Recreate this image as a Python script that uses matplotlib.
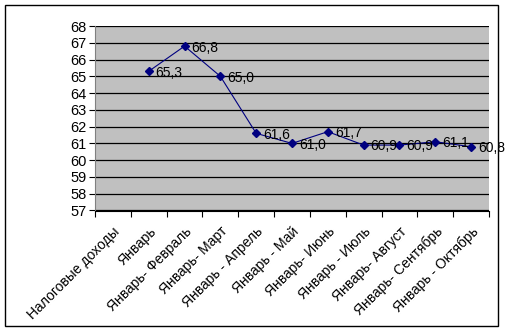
import matplotlib
matplotlib.use("Agg")
import matplotlib.pyplot as plt
from matplotlib.patches import Rectangle
from matplotlib.transforms import ScaledTranslation
import numpy as np

categories = ["Налоговые доходы", "Январь", "Январь- Февраль", "Январь- Март",
              "Январь - Апрель", "Январь - Май", "Январь- Июнь", "Январь - Июль",
              "Январь- Август", "Январь- Сентябрь", "Январь - Октябрь"]
values = [None, 65.3, 66.8, 65.0, 61.6, 61.0, 61.7, 60.9, 60.9, 61.1, 60.8]
value_labels = ["", "65,3", "66,8", "65,0", "61,6", "61,0", "61,7", "60,9", "60,9", "61,1", "60,8"]

plt.rcParams["font.family"] = ["Liberation Sans", "DejaVu Sans"]

fig = plt.figure(figsize=(5.05, 3.32), dpi=100)
fig.patch.set_facecolor("white")

# chart frame
W, H = 505, 332
fig.add_artist(Rectangle((5 / W, 6 / H), 493 / W, 321 / H, transform=fig.transFigure,
                         fill=False, edgecolor="black", linewidth=1.0))

ax = fig.add_axes([95 / W, (H - 210.5) / H, 394 / W, 184.5 / H])
ax.set_facecolor("#C0C0C0")

n = len(categories)
x = np.arange(n)
xs = [i for i, v in enumerate(values) if v is not None]
ys = [values[i] for i in xs]
ax.plot(xs, ys, color="#000080", linewidth=0.8, marker="D", markersize=4,
        markerfacecolor="#000080", markeredgecolor="#000080", zorder=3)

for i in xs:
    ax.annotate(value_labels[i], (i, values[i]), xytext=(5, -1), textcoords="offset points",
                ha="left", va="center", fontsize=10, color="black", zorder=4)

ax.set_xlim(-0.5, n - 0.5)
ax.set_ylim(57, 68)
ax.set_yticks(range(57, 69))
ax.yaxis.grid(True, color="black", linewidth=0.9)
ax.set_axisbelow(True)

ax.set_xticks(np.arange(-0.5, n, 1.0))
ax.set_xticklabels([])
ax.set_xticks(x, minor=True)
ax.set_xticklabels(categories, minor=True, rotation=45, ha="right", va="top",
                   rotation_mode="anchor", fontsize=10)
shift = ScaledTranslation(-4 / 100, 0, fig.dpi_scale_trans)
for lbl in ax.get_xticklabels(minor=True):
    lbl.set_transform(lbl.get_transform() + shift)
ax.tick_params(axis="x", which="minor", length=0, pad=10)
ax.tick_params(axis="x", which="major", length=4, direction="out", width=0.8)
ax.tick_params(axis="y", length=4, direction="out", width=0.8, labelsize=10.5, pad=2)

for side in ["top", "right"]:
    ax.spines[side].set_visible(False)
ax.spines["left"].set_linewidth(0.8)
ax.spines["bottom"].set_linewidth(0.8)
ax.spines["left"].set_color("#808080")

fig.savefig("out.png", dpi=100)
